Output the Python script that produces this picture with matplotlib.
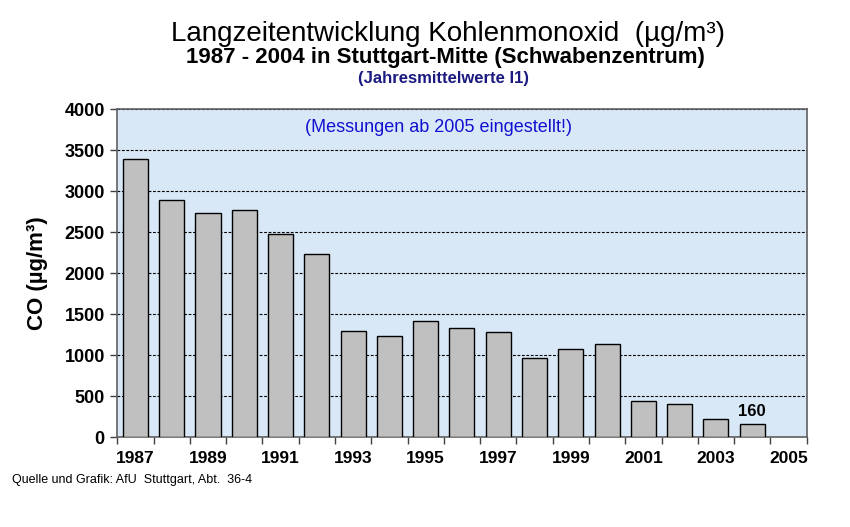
import matplotlib
matplotlib.use("Agg")
import matplotlib.pyplot as plt
import numpy as np

years = list(range(1987, 2006))  # categories incl. empty 2005
values = [3400, 2890, 2740, 2770, 2480, 2240, 1300, 1240, 1420, 1330,
          1290, 970, 1080, 1140, 440, 410, 220, 160]
tick_labels = ["1987", "1989", "1991", "1993", "1995", "1997", "1999", "2001", "2003", "2005"]
yticks = [0, 500, 1000, 1500, 2000, 2500, 3000, 3500, 4000]

plt.rcParams['font.family'] = ['Liberation Sans', 'DejaVu Sans']

fig = plt.figure(figsize=(8.5, 5.27), dpi=100)
ax = fig.add_axes([0.138, 0.170, 0.811, 0.6226])
ax.set_facecolor('#d9e8f7')

x = np.arange(len(values))
ax.bar(x, values, width=0.69, color='#c0c0c0', edgecolor='black', linewidth=1.0, zorder=3)

ax.set_xlim(-0.5, len(years) - 0.5)
ax.set_ylim(0, 4000)
ax.set_yticks(yticks)
ax.set_yticklabels([str(v) for v in yticks], fontsize=13, fontweight='bold')
ax.yaxis.grid(True, linestyle=(0, (2.5, 1.5)), color='black', linewidth=0.8, zorder=1)

label_pos = [years.index(int(t)) for t in tick_labels]
ax.set_xticks(label_pos)
ax.set_xticklabels(tick_labels, fontsize=12.5, fontweight='bold')
ax.tick_params(axis='x', which='major', length=0, pad=10)
ax.set_xticks(np.arange(-0.5, len(years)), minor=True)
ax.tick_params(axis='x', which='minor', length=5, width=1, color='#404040', direction='out')
ax.tick_params(axis='y', length=5, width=1, color='#404040', direction='out', pad=4)

for s in ax.spines.values():
    s.set_color('#606060')
    s.set_linewidth(1.2)

ax.set_ylabel('CO (µg/m³)', fontsize=16, fontweight='bold', labelpad=12)

ax.text(years.index(2004), values[-1] + 60, '160', ha='center', va='bottom',
        fontsize=12, fontweight='bold', zorder=4)
ax.text(0.466, 0.946, '(Messungen ab 2005 eingestellt!)', transform=ax.transAxes,
        ha='center', va='center', fontsize=13, color='#1010d0')

fig.text(0.527, 0.935, 'Langzeitentwicklung Kohlenmonoxid  (µg/m³)', ha='center', va='center',
         fontsize=20)
fig.text(0.524, 0.891, '1987 - 2004 in Stuttgart-Mitte (Schwabenzentrum)', ha='center', va='center',
         fontsize=16, fontweight='bold')
fig.text(0.522, 0.851, '(Jahresmittelwerte I1)', ha='center', va='center',
         fontsize=12, fontweight='bold', color='#1a1a80')
fig.text(0.014, 0.089, 'Quelle und Grafik: AfU  Stuttgart, Abt.  36-4', ha='left', va='center',
         fontsize=9)

fig.savefig('out.png', dpi=100)
